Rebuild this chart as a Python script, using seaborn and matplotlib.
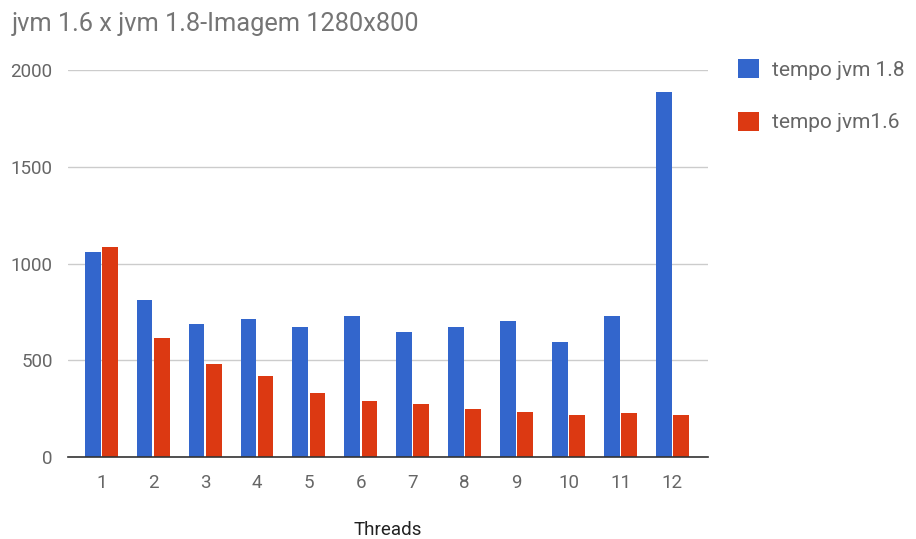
import matplotlib
matplotlib.use("Agg")
import matplotlib.pyplot as plt
from matplotlib.patches import Patch
import seaborn as sns
import pandas as pd

threads = [str(i) for i in range(1, 13)]
tempo_jvm18 = [1060, 813, 688, 712, 671, 729, 648, 672, 705, 597, 729, 1886]
tempo_jvm16 = [1085, 614, 482, 417, 333, 292, 275, 250, 235, 218, 226, 218]
series_names = ["tempo jvm 1.8", "tempo jvm1.6"]
colors = ["#3366cc", "#dc3912"]
title = "jvm 1.6 x jvm 1.8-Imagem 1280x800"

df = pd.DataFrame({
    "Threads": threads * 2,
    "tempo": tempo_jvm18 + tempo_jvm16,
    "serie": [series_names[0]] * 12 + [series_names[1]] * 12,
})

sns.set_style("white")
plt.rcParams["font.family"] = ["Roboto", "DejaVu Sans"]

fig = plt.figure(figsize=(9.16, 5.39), dpi=100)
ax = fig.add_axes([0.0742, 0.152, 0.699, 0.718])

sns.barplot(data=df, x="Threads", y="tempo", hue="serie", palette=colors,
            width=0.66, gap=0.08, ax=ax, legend=False, saturation=1)
for p in ax.patches:
    p.set_edgecolor("none")

ax.set_ylim(0, 2000)
ax.set_xlim(-0.64, 11.69)
ax.set_yticks([0, 500, 1000, 1500, 2000])
ax.yaxis.grid(True, color="#cccccc", linewidth=1)
ax.set_axisbelow(True)
for s in ["top", "right", "left"]:
    ax.spines[s].set_visible(False)
ax.spines["bottom"].set_color("#333333")
ax.spines["bottom"].set_linewidth(1.2)
ax.tick_params(axis="both", length=0, labelsize=13.5, colors="#666666")
ax.tick_params(axis="y", pad=11)
ax.tick_params(axis="x", pad=12)
ax.set_ylabel("")
ax.set_xlabel("Threads", fontsize=13.5, color="#222222")
ax.xaxis.label.set_va("center")
ax.xaxis.set_label_coords(0.5, -0.189)

fig.text(0.013, 0.955, title, fontsize=18.3, color="#757575", ha="left", va="center")

handles = [Patch(facecolor=c, edgecolor="none") for c in colors]
fig.legend(handles, series_names, loc="upper left", bbox_to_anchor=(0.806, 0.89),
           frameon=False, fontsize=15, labelcolor="#666666", handlelength=1.0,
           handleheight=1.0, labelspacing=1.55, handletextpad=0.6,
           borderaxespad=0, borderpad=0)

fig.savefig("out.png", dpi=100)
